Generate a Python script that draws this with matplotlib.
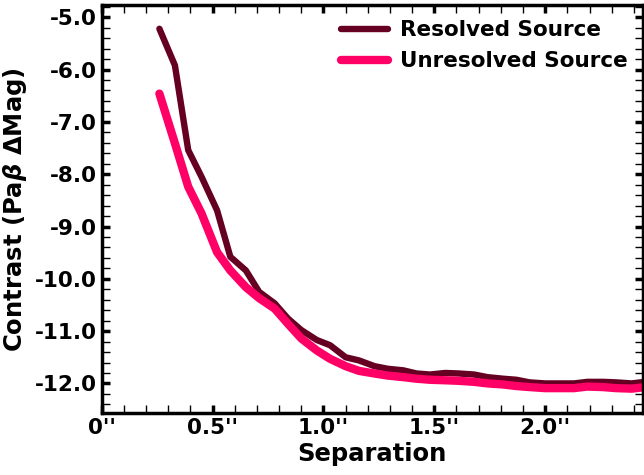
import numpy as np
import matplotlib
matplotlib.use("Agg")
import matplotlib.pyplot as plt
from matplotlib.ticker import MultipleLocator, FormatStrFormatter

# separation in arcsec
separation = [0.26, 0.33, 0.39, 0.45, 0.52, 0.58, 0.65, 0.71, 0.78, 0.84,
              0.90, 0.97, 1.03, 1.10, 1.16, 1.23, 1.29, 1.36, 1.42, 1.48,
              1.55, 1.61, 1.68, 1.74, 1.81, 1.87, 1.93, 2.00, 2.06, 2.13,
              2.19, 2.26, 2.32, 2.39, 2.45]

resolved = [-5.22, -5.92, -7.54, -8.05, -8.69, -9.58, -9.84, -10.25, -10.47, -10.76,
            -10.98, -11.17, -11.27, -11.50, -11.56, -11.67, -11.72, -11.75, -11.81, -11.83,
            -11.80, -11.81, -11.83, -11.88, -11.91, -11.93, -11.98, -12.00, -12.00, -12.00,
            -11.97, -11.97, -11.98, -12.00, -11.97]

unresolved = [-6.46, -7.41, -8.24, -8.75, -9.49, -9.84, -10.16, -10.37, -10.57, -10.86,
              -11.14, -11.37, -11.53, -11.67, -11.76, -11.81, -11.85, -11.88, -11.91, -11.93,
              -11.94, -11.95, -11.97, -12.00, -12.02, -12.05, -12.07, -12.09, -12.09, -12.09,
              -12.06, -12.07, -12.09, -12.10, -12.07]

xticks = [0, 0.5, 1.0, 1.5, 2.0]
xticklabels = ["0''", "0.5''", "1.0''", "1.5''", "2.0''"]

plt.rcParams['axes.unicode_minus'] = False
plt.rcParams['font.weight'] = 'bold'

fig = plt.figure(figsize=(6.44, 4.75), dpi=100)
ax = fig.add_axes([0.158, 0.13, 0.84, 0.859])

ax.plot(separation, resolved, color='#650022', lw=4.6, solid_capstyle='round',
        solid_joinstyle='round', label='Resolved Source')
ax.plot(separation, unresolved, color='#ff0066', lw=6.0, solid_capstyle='round',
        solid_joinstyle='round', label='Unresolved Source')

ax.set_xlim(0, 2.44)
ax.set_ylim(-12.57, -4.77)

ax.set_xticks(xticks)
ax.set_xticklabels(xticklabels)
ax.xaxis.set_minor_locator(MultipleLocator(0.1))
ax.yaxis.set_major_locator(MultipleLocator(1.0))
ax.yaxis.set_minor_locator(MultipleLocator(0.2))
ax.yaxis.set_major_formatter(FormatStrFormatter('%.1f'))

ax.tick_params(which='both', direction='in', top=True, right=True, labelsize=15.5)
ax.tick_params(which='major', length=6, width=2.5)
ax.tick_params(which='minor', length=6, width=1.0)
for lab in ax.get_xticklabels() + ax.get_yticklabels():
    lab.set_fontweight('bold')

for sp in ax.spines.values():
    sp.set_linewidth(2.5)

ax.set_xlabel('Separation', fontsize=17.5, fontweight='bold', labelpad=3)
ax.set_ylabel(r'Contrast (Pa$\beta$ $\Delta$Mag)', fontsize=17.5, fontweight='bold')

leg = ax.legend(loc='upper right', frameon=False, handlelength=2.2,
                handletextpad=0.55, borderaxespad=0.3,
                prop={'size': 15.5, 'weight': 'bold'})

fig.savefig('out.png', dpi=100)
